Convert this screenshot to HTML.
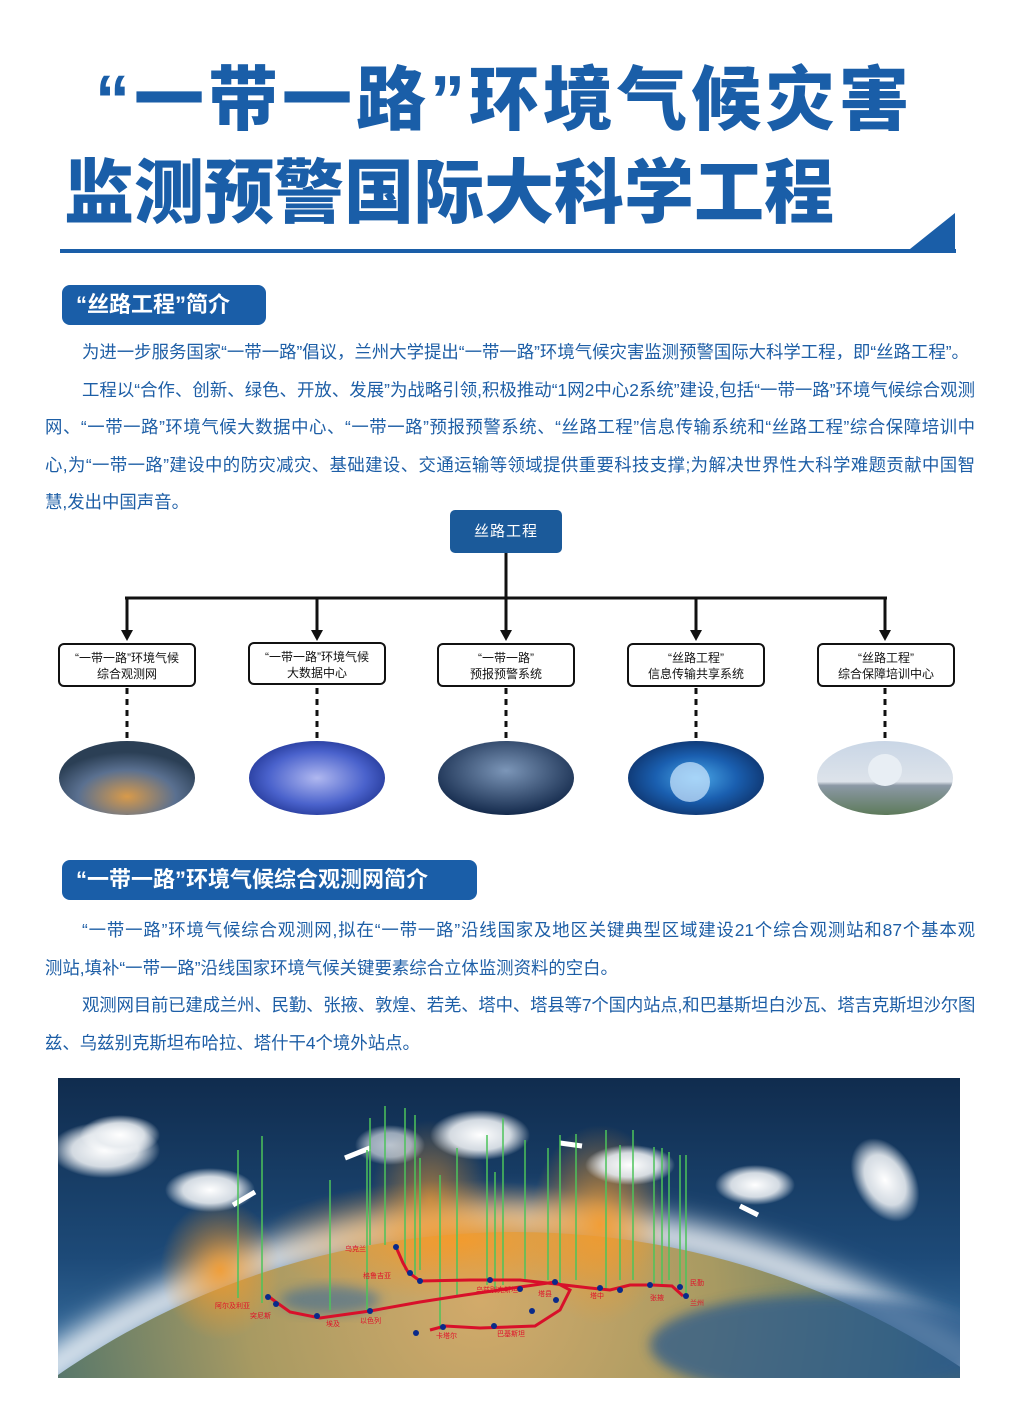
<!DOCTYPE html>
<html><head><meta charset="utf-8">
<style>
*{margin:0;padding:0;box-sizing:border-box}
html,body{width:1017px;height:1418px;overflow:hidden}
body{background:#fff;position:relative;font-family:"Liberation Sans","Noto Sans CJK SC",sans-serif}
.t{position:absolute;color:#1a5ea8;font-weight:900;font-size:70px;line-height:1;white-space:nowrap}
.hd{position:absolute;background:#1a5ea8;color:#fff;font-weight:bold;font-size:22px;border-radius:8px;line-height:40px;padding-left:14px;white-space:nowrap}
.p{position:absolute;left:45px;width:930px;color:#1d5ea6;font-size:17.4px;line-height:37.6px}
.p .j{text-align:justify;text-align-last:justify;white-space:nowrap}
.p .i{padding-left:37px}
.bx{position:absolute;top:643px;width:138px;height:44px;border:2px solid #111;border-radius:6px;background:#fff;font-size:12px;line-height:16px;text-align:center;padding-top:5px;color:#111}
</style></head><body>
<div class="t" style="left:95px;top:65px;letter-spacing:4px">“一带一路”环境气候灾害</div>
<div class="t" style="left:64px;top:158px">监测预警国际大科学工程</div>
<div style="position:absolute;left:60px;top:249px;width:896px;height:4px;background:#1a5ea8"></div>
<svg style="position:absolute;left:0;top:0" width="1017" height="260"><polygon points="905,253 955,253 955,213" fill="#1a5ea8"/></svg>

<div class="hd" style="left:62px;top:285px;width:204px">“丝路工程”简介</div>
<div class="p" style="top:334px">
<div class="i" style="width:930px">为进一步服务国家“一带一路”倡议，兰州大学提出“一带一路”环境气候灾害监测预警国际大科学工程，即“丝路工程”。</div>
<div class="j i">工程以“合作、创新、绿色、开放、发展”为战略引领,积极推动“1网2中心2系统”建设,包括“一带一路”环境气候综合观测</div>
<div class="j">网、“一带一路”环境气候大数据中心、“一带一路”预报预警系统、“丝路工程”信息传输系统和“丝路工程”综合保障培训中</div>
<div class="j">心,为“一带一路”建设中的防灾减灾、基础建设、交通运输等领域提供重要科技支撑;为解决世界性大科学难题贡献中国智</div>
<div>慧,发出中国声音。</div>
</div>

<div style="position:absolute;left:450px;top:510px;width:112px;height:43px;background:#1b5a9a;border-radius:5px;color:#fff;font-size:15px;line-height:43px;text-align:center;letter-spacing:1px">丝路工程</div>
<svg style="position:absolute;left:0;top:0" width="1017" height="830">
<g stroke="#111" stroke-width="3" fill="none">
<line x1="506" y1="553" x2="506" y2="632"/>
<line x1="125" y1="598" x2="887" y2="598"/>
<line x1="127" y1="598" x2="127" y2="632"/><line x1="317" y1="598" x2="317" y2="632"/><line x1="696" y1="598" x2="696" y2="632"/><line x1="885" y1="598" x2="885" y2="632"/>
</g>
<g fill="#111"><polygon points="121,630 133,630 127,641"/><polygon points="311,630 323,630 317,641"/><polygon points="500,630 512,630 506,641"/><polygon points="690,630 702,630 696,641"/><polygon points="879,630 891,630 885,641"/></g>
<g stroke="#111" stroke-width="3" stroke-dasharray="6,5"><line x1="127" y1="688" x2="127" y2="740"/><line x1="317" y1="688" x2="317" y2="740"/><line x1="506" y1="688" x2="506" y2="740"/><line x1="696" y1="688" x2="696" y2="740"/><line x1="885" y1="688" x2="885" y2="740"/></g>
<defs>
<radialGradient id="g1" cx=".5" cy=".75" r=".6"><stop offset="0" stop-color="#d89a4a"/><stop offset=".6" stop-color="#5a7090"/><stop offset="1" stop-color="#2b3f55"/></radialGradient>
<radialGradient id="g2" cx=".5" cy=".5" r=".6"><stop offset="0" stop-color="#b0b8f0"/><stop offset=".6" stop-color="#4a62cc"/><stop offset="1" stop-color="#1a2e8a"/></radialGradient>
<radialGradient id="g3" cx=".5" cy=".4" r=".6"><stop offset="0" stop-color="#7c96b8"/><stop offset="1" stop-color="#142a4c"/></radialGradient>
<radialGradient id="g4" cx=".5" cy=".5" r=".6"><stop offset="0" stop-color="#4aa8e8"/><stop offset=".5" stop-color="#1a5fb0"/><stop offset="1" stop-color="#0b2a5e"/></radialGradient>
<linearGradient id="g5" x1="0" y1="0" x2="0" y2="1"><stop offset="0" stop-color="#c9d6e6"/><stop offset=".55" stop-color="#dde3ea"/><stop offset=".6" stop-color="#8c99a6"/><stop offset="1" stop-color="#5d7a5a"/></linearGradient>
</defs>
<ellipse cx="127" cy="778" rx="68" ry="37" fill="url(#g1)"/>
<ellipse cx="317" cy="778" rx="68" ry="37" fill="url(#g2)"/>
<ellipse cx="506" cy="778" rx="68" ry="37" fill="url(#g3)"/>
<ellipse cx="696" cy="778" rx="68" ry="37" fill="url(#g4)"/>
<circle cx="690" cy="782" r="20" fill="#cfe8ff" opacity=".7"/>
<ellipse cx="885" cy="778" rx="68" ry="37" fill="url(#g5)"/>
<ellipse cx="885" cy="770" rx="17" ry="16" fill="#e8eef4"/>
</svg>
<div class="bx" style="left:58px">“一带一路”环境气候<br>综合观测网</div>
<div class="bx" style="left:248px;top:642px;height:43px">“一带一路”环境气候<br>大数据中心</div>
<div class="bx" style="left:437px">“一带一路”<br>预报预警系统</div>
<div class="bx" style="left:627px">“丝路工程”<br>信息传输共享系统</div>
<div class="bx" style="left:817px">“丝路工程”<br>综合保障培训中心</div>

<div class="hd" style="left:62px;top:860px;width:415px">“一带一路”环境气候综合观测网简介</div>
<div class="p" style="top:912px">
<div class="j i">“一带一路”环境气候综合观测网,拟在“一带一路”沿线国家及地区关键典型区域建设21个综合观测站和87个基本观</div>
<div>测站,填补“一带一路”沿线国家环境气候关键要素综合立体监测资料的空白。</div>
<div class="j i" style="letter-spacing:-0.4px;width:930px;overflow:hidden">观测网目前已建成兰州、民勤、张掖、敦煌、若羌、塔中、塔县等7个国内站点,和巴基斯坦白沙瓦、塔吉克斯坦沙尔图</div>
<div>兹、乌兹别克斯坦布哈拉、塔什干4个境外站点。</div>
</div>

<svg style="position:absolute;left:58px;top:1078px" width="902" height="300" viewBox="58 1078 902 300">
<defs>
<linearGradient id="sky" x1="0" y1="0" x2="0" y2="1"><stop offset="0" stop-color="#102c4e"/><stop offset=".6" stop-color="#1d4a78"/><stop offset="1" stop-color="#3d76a8"/></linearGradient>
<filter id="bl" x="-20%" y="-20%" width="140%" height="140%"><feGaussianBlur stdDeviation="14"/></filter>
<filter id="bl2" x="-30%" y="-30%" width="160%" height="160%"><feGaussianBlur stdDeviation="6"/></filter>
<radialGradient id="earth" cx="480" cy="1300" r="520" gradientUnits="userSpaceOnUse"><stop offset="0" stop-color="#d2aa6a"/><stop offset=".45" stop-color="#a89a62"/><stop offset=".8" stop-color="#5d7a6a"/><stop offset="1" stop-color="#2a5684"/></radialGradient>
<radialGradient id="or" cx=".5" cy=".5" r=".5"><stop offset="0" stop-color="#f59a2a" stop-opacity=".9"/><stop offset="1" stop-color="#f59a2a" stop-opacity="0"/></radialGradient>
<radialGradient id="cl" cx=".5" cy=".5" r=".5"><stop offset="0" stop-color="#fff"/><stop offset=".6" stop-color="#e8ecf0" stop-opacity=".9"/><stop offset="1" stop-color="#fff" stop-opacity="0"/></radialGradient>
</defs>
<rect x="58" y="1078" width="902" height="300" fill="url(#sky)"/>
<circle cx="515" cy="2034" r="812" fill="none" stroke="#ffffff" stroke-width="30" filter="url(#bl)"/>
<circle cx="515" cy="2034" r="802" fill="url(#earth)"/>
<ellipse cx="820" cy="1345" rx="170" ry="50" fill="#2a5a8c" opacity=".75" filter="url(#bl2)"/>
<ellipse cx="330" cy="1300" rx="50" ry="14" fill="#3a6a98" opacity=".6" filter="url(#bl2)"/>
<ellipse cx="460" cy="1240" rx="200" ry="60" fill="url(#or)"/>
<ellipse cx="600" cy="1225" rx="70" ry="100" fill="url(#or)"/>
<ellipse cx="220" cy="1270" rx="60" ry="70" fill="url(#or)"/>
<ellipse cx="430" cy="1200" rx="60" ry="80" fill="url(#or)" opacity=".7"/>
<ellipse cx="105" cy="1150" rx="55" ry="28" fill="url(#cl)"/>
<ellipse cx="120" cy="1135" rx="40" ry="20" fill="url(#cl)"/>
<ellipse cx="210" cy="1190" rx="45" ry="22" fill="url(#cl)"/>
<ellipse cx="480" cy="1135" rx="50" ry="25" fill="url(#cl)"/>
<ellipse cx="390" cy="1145" rx="35" ry="20" fill="url(#cl)" opacity=".7"/>
<ellipse cx="630" cy="1165" rx="45" ry="20" fill="url(#cl)"/>
<ellipse cx="755" cy="1185" rx="40" ry="20" fill="url(#cl)"/>
<ellipse cx="885" cy="1180" rx="30" ry="45" fill="url(#cl)" transform="rotate(-30 885 1180)"/>
<g stroke="#fff" stroke-width="5"><line x1="233" y1="1205" x2="255" y2="1192"/><line x1="345" y1="1158" x2="370" y2="1148"/><line x1="560" y1="1143" x2="582" y2="1146"/><line x1="740" y1="1206" x2="758" y2="1215"/></g>
<g stroke="#4cc35a" stroke-width="1.5">
<line x1="238" y1="1150" x2="238" y2="1298"/><line x1="262" y1="1136" x2="262" y2="1303"/><line x1="330" y1="1180" x2="330" y2="1310"/><line x1="367" y1="1150" x2="367" y2="1310"/><line x1="370" y1="1118" x2="370" y2="1245"/><line x1="385" y1="1106" x2="385" y2="1245"/><line x1="405" y1="1108" x2="405" y2="1270"/><line x1="415" y1="1115" x2="415" y2="1275"/><line x1="420" y1="1158" x2="420" y2="1270"/><line x1="440" y1="1175" x2="440" y2="1330"/><line x1="457" y1="1148" x2="457" y2="1295"/><line x1="487" y1="1135" x2="487" y2="1285"/><line x1="495" y1="1172" x2="495" y2="1290"/><line x1="503" y1="1118" x2="503" y2="1285"/><line x1="525" y1="1140" x2="525" y2="1280"/><line x1="548" y1="1148" x2="548" y2="1280"/><line x1="560" y1="1135" x2="560" y2="1285"/><line x1="576" y1="1134" x2="576" y2="1280"/><line x1="606" y1="1130" x2="606" y2="1290"/><line x1="620" y1="1145" x2="620" y2="1280"/><line x1="633" y1="1130" x2="633" y2="1280"/><line x1="654" y1="1147" x2="654" y2="1285"/><line x1="662" y1="1148" x2="662" y2="1285"/><line x1="669" y1="1152" x2="669" y2="1280"/><line x1="680" y1="1155" x2="680" y2="1285"/><line x1="686" y1="1155" x2="686" y2="1295"/>
</g>
<path d="M268,1296 L276,1302 L290,1312 L320,1318 L370,1311 L420,1302 L465,1295 L520,1287 L555,1282 L570,1290 L560,1310 L535,1326 L480,1328 L445,1326 L430,1330 M396,1247 L403,1263 L408,1272 L420,1281 L470,1280 L520,1280 L556,1284 L590,1288 L610,1290 L630,1285 L652,1285 L672,1286 L683,1296" stroke="#d8102a" stroke-width="3" fill="none"/>
<g fill="#0a2a8a"><circle cx="268" cy="1297" r="3"/><circle cx="276" cy="1304" r="3"/><circle cx="317" cy="1316" r="3"/><circle cx="370" cy="1311" r="3"/><circle cx="396" cy="1247" r="3"/><circle cx="410" cy="1273" r="3"/><circle cx="420" cy="1281" r="3"/><circle cx="490" cy="1280" r="3"/><circle cx="520" cy="1289" r="3"/><circle cx="555" cy="1282" r="3"/><circle cx="556" cy="1300" r="3"/><circle cx="532" cy="1311" r="3"/><circle cx="494" cy="1326" r="3"/><circle cx="443" cy="1327" r="3"/><circle cx="416" cy="1333" r="3"/><circle cx="600" cy="1288" r="3"/><circle cx="620" cy="1290" r="3"/><circle cx="650" cy="1285" r="3"/><circle cx="680" cy="1287" r="3"/><circle cx="686" cy="1296" r="3"/></g>
<g fill="#e0102a" font-size="7" font-family="Liberation Sans,Noto Sans CJK SC,sans-serif"><text x="215" y="1308">阿尔及利亚</text><text x="250" y="1318">突尼斯</text><text x="326" y="1326">埃及</text><text x="360" y="1323">以色列</text><text x="345" y="1251">乌克兰</text><text x="363" y="1278">格鲁吉亚</text><text x="476" y="1292">乌兹别克斯坦</text><text x="538" y="1296">塔县</text><text x="590" y="1298">塔中</text><text x="650" y="1300">张掖</text><text x="690" y="1285">民勤</text><text x="690" y="1305">兰州</text><text x="497" y="1336">巴基斯坦</text><text x="436" y="1338">卡塔尔</text></g>
</svg>
</body></html>
